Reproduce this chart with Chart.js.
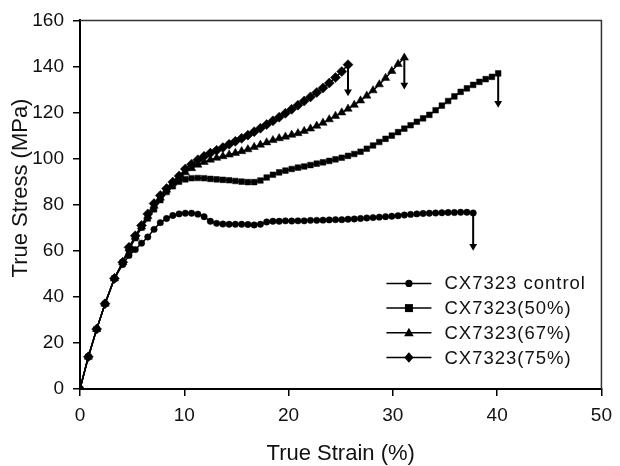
<!DOCTYPE html>
<html><head><meta charset="utf-8">
<script src="https://cdn.jsdelivr.net/npm/chart.js@4.4.0/dist/chart.umd.min.js"></script>
<style>html,body{margin:0;padding:0;background:#fff;}#wrap{width:620px;height:466px;position:relative;}</style>
</head><body><div id="wrap"><canvas id="c"></canvas></div>
<script>
// True strain (%) sampling shared by all series
const strain = [
  0, 0.8, 1.6, 2.4, 3.3, 4.1, 4.7, 5.3, 5.9, 6.5,
  7.1, 7.7, 8.3, 8.9, 9.5, 10.1, 10.7, 11.3, 11.9, 12.5,
  13.1, 13.7, 14.3, 14.9, 15.5, 16.1, 16.7, 17.3, 17.9, 18.5,
  19.1, 19.7, 20.3, 20.9, 21.5, 22.1, 22.7, 23.3, 23.9, 24.5,
  25.1, 25.7, 26.3, 26.9, 27.5, 28.1, 28.7, 29.3, 29.9, 30.5,
  31.1, 31.7, 32.3, 32.9, 33.5, 34.1, 34.7, 35.3, 35.9, 36.5,
  37.1, 37.7, 38.3, 38.9, 39.5, 40.1
];
// True stress (MPa)
const stressControl = [
  0, 14, 26, 37, 48, 54, 58, 60.5, 63.3, 66,
  69.3, 72.2, 74, 75.3, 76, 76.3, 76.3, 75.9, 74.8, 72.8,
  71.9, 71.6, 71.5, 71.5, 71.5, 71.4, 71.2, 71.5, 72.5, 72.8,
  72.8, 73, 72.9, 73, 73, 73.2, 73.2, 73.3, 73.4, 73.5,
  73.5, 73.7, 73.8, 74, 74.2, 74.4, 74.6, 74.8, 75, 75.2,
  75.5, 75.8, 76, 76.2, 76.3, 76.4, 76.5, 76.6, 76.6, 76.7,
  76.7, 76.4
];
const stress50 = [
  0, 14, 26, 37, 48, 55, 60.5, 65.5, 70, 74,
  78, 82, 85.5, 88, 90, 91, 91.5, 91.6, 91.5, 91.2,
  91, 90.8, 90.6, 90.3, 90, 89.8, 89.8, 90.5, 91.8, 93,
  94, 94.8, 95.5, 96.1, 96.6, 97.2, 97.8, 98.4, 99, 99.7,
  100.4, 101.2, 102, 103, 104.3, 105.7, 107.2, 108.6, 110, 111.5,
  113, 114.5, 116, 117.5, 119, 121, 123, 125, 127, 129,
  130.5, 132, 133.3, 134.5, 135.5, 137
];
const stress67 = [
  0, 14, 26, 37, 48, 55, 61, 66, 70.5, 75,
  79.5, 83, 86.5, 89.5, 92, 94, 95.8, 97.3, 98.5, 99.5,
  100.3, 101, 101.7, 102.4, 103.2, 104, 105, 106, 107, 108,
  108.8, 109.5, 110.3, 111, 112, 113, 114.2, 115.5, 117, 118.5,
  120, 121.6, 123.3, 125.2, 127.3, 129.6, 132.2, 135, 138, 141,
  143.8
];
const stress75 = [
  0, 14, 26, 37, 48, 55, 61.5, 66.5, 71, 76,
  80.5, 84, 87, 89.8, 92.5, 95.5, 97.6, 99.5, 101, 102.4,
  103.6, 104.8, 106.2, 107.5, 108.8, 110.2, 111.7, 113.2, 114.8, 116.4,
  118, 119.7, 121.4, 123.2, 125, 126.8, 128.7, 130.7, 132.8, 135.2,
  137.8, 140.8
];
const seriesNames = ['CX7323 control', 'CX7323(50%)', 'CX7323(67%)', 'CX7323(75%)'];
// failure arrows: strain at break, stress at break, arrow-head level
const breakStrain = [37.7, 40.1, 31.1, 25.7];
const breakStress = [76.4, 137, 143.8, 140.8];
const arrowHeadStress = [62, 124, 132, 129];
const xTicks = [0, 10, 20, 30, 40, 50];
const yTicks = [0, 20, 40, 60, 80, 100, 120, 140, 160];
const xTitle = 'True Strain (%)';
const yTitle = 'True Stress (MPa)';

const FONT = '"Liberation Sans", Arial, sans-serif';
Chart.defaults.font.family = FONT;
Chart.defaults.color = '#111';

const allStress = [stressControl, stress50, stress67, stress75];
const markerStyles = ['circle', 'rect', 'triangle', 'rectRot'];
const markerRadius = [3.2, 4.0, 4.8, 5.0];

const datasets = allStress.map((ys, i) => ({
  label: seriesNames[i],
  data: ys.map((y, k) => ({ x: strain[k], y })),
  showLine: true,
  borderColor: '#000',
  borderWidth: 1.5,
  pointStyle: markerStyles[i],
  pointRadius: markerRadius[i],
  pointBackgroundColor: '#000',
  pointBorderColor: '#000',
  pointBorderWidth: 0.5,
  order: 4 - i
}));
breakStrain.forEach((bx, i) => {
  datasets.push({
    label: 'arrow' + i,
    data: [{ x: bx, y: breakStress[i] }, { x: bx, y: arrowHeadStress[i] }],
    showLine: true,
    borderColor: '#000',
    borderWidth: 2,
    pointStyle: 'triangle',
    rotation: 180,
    pointRadius: [0, 4.5],
    pointBackgroundColor: '#000',
    pointBorderColor: '#000',
    pointBorderWidth: 0
  });
});

function drawMarker(ctx, style, x, y) {
  ctx.beginPath();
  if (style === 'circle') { ctx.arc(x, y, 3.6, 0, Math.PI * 2); }
  else if (style === 'rect') { ctx.rect(x - 4, y - 4, 8, 8); }
  else if (style === 'triangle') { ctx.moveTo(x, y - 5); ctx.lineTo(x + 4.8, y + 3.4); ctx.lineTo(x - 4.8, y + 3.4); ctx.closePath(); }
  else { ctx.moveTo(x, y - 5.2); ctx.lineTo(x + 4.6, y); ctx.lineTo(x, y + 5.2); ctx.lineTo(x - 4.6, y); ctx.closePath(); }
  ctx.fill();
}

const decorPlugin = {
  id: 'decor',
  afterDraw(chart) {
    const { ctx, chartArea: a } = chart;
    ctx.save();
    ctx.strokeStyle = '#333';
    ctx.lineWidth = 1.5;
    ctx.beginPath();
    ctx.moveTo(a.left, a.top); ctx.lineTo(a.right, a.top); ctx.lineTo(a.right, a.bottom);
    ctx.stroke();
    ctx.fillStyle = '#111';
    ctx.font = '22px ' + FONT;
    ctx.textAlign = 'center';
    ctx.textBaseline = 'alphabetic';
    ctx.fillText(xTitle, (a.left + a.right) / 2, 460);
    ctx.save();
    ctx.translate(21, 188);
    ctx.rotate(-Math.PI / 2);
    ctx.textBaseline = 'middle';
    ctx.fillText(yTitle, 0, 0);
    ctx.restore();
    ctx.font = '18.5px ' + FONT;
    ctx.textAlign = 'left';
    ctx.textBaseline = 'middle';
    try { ctx.letterSpacing = '1px'; } catch (e) {}
    seriesNames.forEach((name, i) => {
      const y = a.top + 263 + i * 24.7;
      ctx.strokeStyle = '#000';
      ctx.lineWidth = 1.5;
      ctx.beginPath();
      ctx.moveTo(a.right - 215, y); ctx.lineTo(a.right - 170, y);
      ctx.stroke();
      ctx.fillStyle = '#000';
      drawMarker(ctx, markerStyles[i], a.right - 192.5, y);
      ctx.fillStyle = '#111';
      ctx.fillText(name, a.right - 157, y + 1);
    });
    ctx.restore();
  }
};

new Chart(document.getElementById('c'), {
  type: 'scatter',
  data: { datasets },
  options: {
    responsive: true,
    maintainAspectRatio: false,
    animation: false,
    layout: { padding: { left: 0, top: 19, right: 11, bottom: 0 } },
    plugins: { legend: { display: false }, tooltip: { enabled: false } },
    scales: {
      x: {
        type: 'linear', min: 0, max: 50,
        afterBuildTicks: s => { s.ticks = xTicks.map(v => ({ value: v })); },
        afterFit: s => { s.height = 77; },
        ticks: { font: { size: 19 }, color: '#111', padding: 8, maxRotation: 0 },
        grid: { drawOnChartArea: false, drawTicks: true, tickLength: 7, color: '#000', lineWidth: 1.5 },
        border: { color: '#000', width: 2 }
      },
      y: {
        type: 'linear', min: 0, max: 160,
        afterBuildTicks: s => { s.ticks = yTicks.map(v => ({ value: v })); },
        afterFit: s => { s.width = 80; },
        ticks: { font: { size: 19 }, color: '#111', padding: 9 },
        grid: { drawOnChartArea: false, drawTicks: true, tickLength: 7, color: '#000', lineWidth: 1.5 },
        border: { color: '#000', width: 2 }
      }
    }
  },
  plugins: [decorPlugin]
});
</script></body></html>
